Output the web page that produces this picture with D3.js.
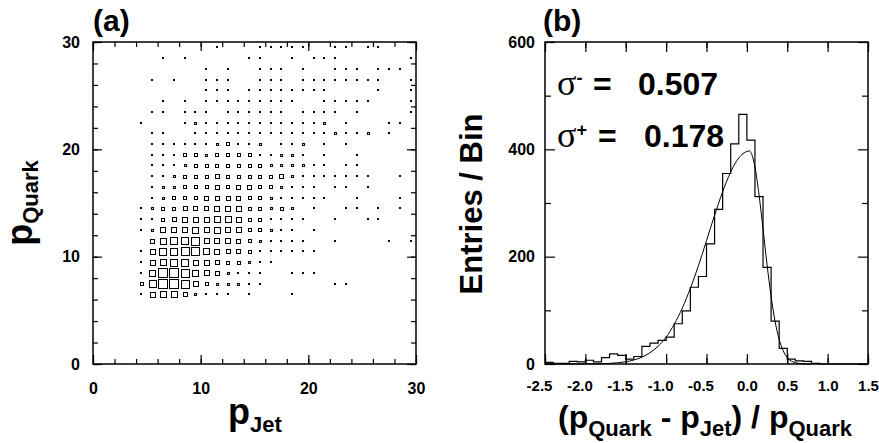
<html>
<head>
<meta charset="utf-8">
<script src="https://d3js.org/d3.v7.min.js"></script>
<style>
  body { margin: 0; background: #fff; }
  text { font-family: "Liberation Sans", Arial, sans-serif; font-weight: bold; fill: #000; }
  .sigma { font-family: "Liberation Serif", "DejaVu Serif", serif; font-weight: normal; }
</style>
</head>
<body>
<svg id="chart" width="879" height="443"></svg>
<script>
// ---- panel (a): p_Quark vs p_Jet, box plot, 1 GeV bins ----
var jetTicks = [0, 10, 20, 30]
var jetMinor = [0, 2, 4, 6, 8, 10, 12, 14, 16, 18, 20, 22, 24, 26, 28, 30]
var quarkTicks = [0, 10, 20, 30]
var quarkMinor = [0, 2, 4, 6, 8, 10, 12, 14, 16, 18, 20, 22, 24, 26, 28, 30]
var firstQuarkBin = 6   // rows below are p_Quark bins 6..29, columns p_Jet bins 0..29
var boxCounts = [
  [0,0,0,0,6,30,42,42,25,9,6,2,2,0,2,0,0,0,2,0,0,0,0,0,0,0,0,0,0,0],
  [0,0,0,0,12,56,90,90,64,30,16,9,9,9,4,2,0,0,0,0,0,0,2,2,0,0,0,0,0,0],
  [0,0,0,0,6,42,90,90,64,42,30,20,9,6,4,2,0,0,2,2,2,0,0,0,0,0,0,0,0,0],
  [0,0,0,0,2,36,42,56,56,36,30,20,16,12,9,4,2,0,0,0,0,0,0,0,0,0,0,0,0,0],
  [0,0,0,0,2,36,49,56,72,72,42,30,20,20,12,6,2,2,2,2,2,0,0,0,0,0,0,0,0,0],
  [0,0,0,0,0,20,42,49,56,64,36,36,30,20,12,9,6,4,2,2,0,0,2,0,0,0,0,2,0,2],
  [0,0,0,0,2,9,30,36,36,42,36,42,36,30,16,12,9,4,4,0,2,0,0,0,0,0,0,0,0,0],
  [0,0,0,0,4,6,16,20,30,30,36,42,42,36,16,12,4,2,2,2,0,0,2,0,0,2,2,0,0,0],
  [0,0,0,0,4,9,12,12,20,25,25,36,36,36,16,16,9,12,9,0,2,0,0,2,2,0,2,0,2,0],
  [0,0,0,0,0,4,9,12,16,16,20,20,20,20,16,16,9,4,4,2,2,2,0,0,2,0,0,0,2,0],
  [0,0,0,0,0,2,9,9,12,12,16,20,16,20,20,16,16,9,6,2,2,0,2,2,0,2,0,0,0,0],
  [0,0,0,0,0,4,2,9,12,16,16,20,16,16,16,16,12,20,9,4,4,4,4,4,2,2,0,0,2,0],
  [0,0,0,0,0,2,2,6,9,12,12,16,12,16,12,12,9,9,9,9,6,6,0,2,2,0,0,0,0,0],
  [0,0,0,0,0,2,2,6,16,12,9,16,16,12,16,4,2,9,9,6,0,2,0,0,2,0,0,0,0,0],
  [0,0,0,0,0,4,4,4,4,2,6,9,16,6,6,9,0,4,6,9,0,2,0,6,0,0,0,0,0,0],
  [0,0,0,0,0,2,6,0,0,4,6,4,4,6,4,4,4,4,4,4,4,4,9,4,4,9,0,4,0,0],
  [0,0,0,0,2,0,0,0,6,9,4,4,4,4,4,4,4,4,4,4,4,9,0,2,0,0,0,2,2,0],
  [0,0,0,0,0,2,2,0,2,2,2,0,4,4,6,6,6,6,0,4,6,6,6,0,2,0,0,0,0,2],
  [0,0,0,0,0,0,2,0,2,0,2,2,2,4,4,4,4,4,2,0,0,4,4,6,4,4,0,0,0,2],
  [0,0,0,0,0,0,0,0,0,0,4,2,2,0,4,4,6,4,4,4,6,4,0,0,0,0,4,0,0,2],
  [0,0,0,0,0,2,0,2,0,0,2,2,2,0,0,2,2,2,0,2,2,4,2,2,2,2,2,0,0,2],
  [0,0,0,0,0,0,0,0,0,0,2,0,2,0,0,2,2,2,0,2,0,0,2,4,2,0,4,2,2,0],
  [0,0,0,0,0,0,2,0,2,0,0,0,0,0,2,2,0,0,2,0,2,6,4,0,0,0,0,0,0,2],
  [0,0,0,0,0,0,0,0,0,0,0,2,0,0,0,2,2,2,2,2,0,0,2,2,0,2,2,0,0,0]
]

// ---- panel (b): (p_Quark - p_Jet)/p_Quark histogram, bins of 0.1 from -2.5 ----
var resTicks = [-2.5, -2, -1.5, -1, -0.5, 0, 0.5, 1, 1.5]
var entryTicks = [0, 200, 400, 600]
var entryMinor = [100, 300, 500]
var resCounts = [3, 1, 1, 5, 4, 7, 4, 12, 19, 16,
                 9, 14, 33, 39, 44, 50, 75, 99, 143, 163,
                 224, 288, 355, 410, 465, 417, 312, 180, 80, 29,
                 9, 6, 5, 1, 0, 0, 0, 0, 0, 0]
// fitted curve
var fitX = [-2.5, -2.0, -1.8, -1.6, -1.5, -1.4, -1.3, -1.2, -1.1, -1.0, -0.9, -0.8, -0.7, -0.6, -0.5,
            -0.4, -0.3, -0.2, -0.1, 0.0, 0.03, 0.05, 0.1, 0.15, 0.2, 0.25, 0.3, 0.35, 0.4, 0.45, 0.5, 0.6, 0.7, 0.8]
var fitY = [0, 0.1, 0.6, 2.3, 4.2, 7.4, 12.7, 21, 33, 50, 74, 104, 141, 183, 230,
            277, 321, 358, 384, 396, 397, 394, 367, 316, 252, 185, 126, 79, 46, 24.5, 12, 2.4, 0.3, 0]
var sigmaLabels = [["-", "0.507"], ["+", "0.178"]]

var svg = d3.select("#chart")

function styleAxis(g, size) {
  g.select(".domain").remove()
  g.selectAll("line").attr("stroke", "#000").attr("stroke-width", 1.2)
  g.attr("font-family", null).attr("font-size", null)
  g.selectAll("text").style("font-size", size + "px")
}

var xIsRes = false
function tickText(d) {
  var s = xIsRes ? Math.abs(d).toFixed(1) : String(Math.abs(d))
  return (d < 0 ? "-" : "") + s
}

function drawFrame(x, y, xMaj, xMin, yMaj, yMin, majLen, minLen, xPad, yPad, xSize) {
  var x0 = x.range()[0], x1 = x.range()[1], y0 = y.range()[0], y1 = y.range()[1]
  svg.append("g").attr("transform", "translate(0," + y0 + ")")
    .call(d3.axisBottom(x).tickValues(xMin).tickSize(-minLen).tickFormat("")).call(styleAxis, 16)
  svg.append("g").attr("transform", "translate(0," + y0 + ")")
    .call(d3.axisBottom(x).tickValues(xMaj).tickSize(-majLen).tickPadding(xPad).tickFormat(tickText))
    .call(styleAxis, xSize)
    .selectAll("text").attr("dx", function(d) { return d < 0 ? -6 : 0 })
  svg.append("g").attr("transform", "translate(0," + y1 + ")")
    .call(d3.axisTop(x).tickValues(xMin).tickSize(-minLen).tickFormat("")).call(styleAxis, 16)
  svg.append("g").attr("transform", "translate(0," + y1 + ")")
    .call(d3.axisTop(x).tickValues(xMaj).tickSize(-majLen).tickFormat("")).call(styleAxis, 16)
  svg.append("g").attr("transform", "translate(" + x0 + ",0)")
    .call(d3.axisLeft(y).tickValues(yMin).tickSize(-minLen).tickFormat("")).call(styleAxis, 16)
  svg.append("g").attr("transform", "translate(" + x0 + ",0)")
    .call(d3.axisLeft(y).tickValues(yMaj).tickSize(-majLen).tickPadding(yPad).tickFormat(d3.format("d")))
    .call(styleAxis, 16)
  svg.append("g").attr("transform", "translate(" + x1 + ",0)")
    .call(d3.axisRight(y).tickValues(yMin).tickSize(-minLen).tickFormat("")).call(styleAxis, 16)
  svg.append("g").attr("transform", "translate(" + x1 + ",0)")
    .call(d3.axisRight(y).tickValues(yMaj).tickSize(-majLen).tickFormat("")).call(styleAxis, 16)
  svg.append("rect").attr("x", x0).attr("y", y1).attr("width", x1 - x0).attr("height", y0 - y1)
    .attr("fill", "none").attr("stroke", "#000").attr("stroke-width", 1.5)
}

// panel (a)
var ax = d3.scaleLinear().domain([0, 30]).range([93, 416])
var ay = d3.scaleLinear().domain([0, 30]).range([364, 42])
var side = d3.scaleSqrt().domain([0, 100]).range([0, 10.8])

var cells = []
boxCounts.forEach(function(row, r) {
  row.forEach(function(n, i) {
    if (n > 0) cells.push({jet: i, quark: firstQuarkBin + r, n: n})
  })
})

// small contents become solid dots, larger ones open boxes snapped to the pixel grid
function inner(d) { return Math.max(1, Math.round(side(d.n) - 1)) }
var boxes = svg.append("g")
boxes.selectAll("rect.dot").data(cells.filter(function(d) { return side(d.n) < 2.8 })).join("rect")
  .attr("class", "dot")
  .attr("x", function(d) { return Math.round(ax(d.jet + 0.5) - 1) })
  .attr("y", function(d) { return Math.round(ay(d.quark + 0.5) - 1) })
  .attr("width", 2).attr("height", 2).attr("fill", "#000")
boxes.selectAll("rect.box").data(cells.filter(function(d) { return side(d.n) >= 2.8 })).join("rect")
  .attr("class", "box")
  .attr("x", function(d) { return Math.round(ax(d.jet + 0.5) - inner(d) / 2) + 0.5 })
  .attr("y", function(d) { return Math.round(ay(d.quark + 0.5) - inner(d) / 2) + 0.5 })
  .attr("width", inner)
  .attr("height", inner)
  .attr("fill", "none").attr("stroke", "#000").attr("stroke-width", 1)

drawFrame(ax, ay, jetTicks, jetMinor, quarkTicks, quarkMinor, 9, 5, 19, 13, 16)

// panel (b)
var bx = d3.scaleLinear().domain([-2.5, 1.5]).range([545, 868])
var by = d3.scaleLinear().domain([0, 600]).range([364, 42])

var steps = resCounts.map(function(c, k) { return [-2.5 + k * 0.1, c] })
steps.push([1.5, resCounts[resCounts.length - 1]])

svg.append("path").datum(steps)
  .attr("d", d3.line().x(function(d) { return bx(d[0]) }).y(function(d) { return by(d[1]) }).curve(d3.curveStepAfter))
  .attr("fill", "none").attr("stroke", "#000").attr("stroke-width", 1.2)

svg.append("path").datum(d3.zip(fitX, fitY))
  .attr("d", d3.line().x(function(d) { return bx(d[0]) }).y(function(d) { return by(d[1]) }).curve(d3.curveMonotoneX))
  .attr("fill", "none").attr("stroke", "#000").attr("stroke-width", 1)

xIsRes = true
drawFrame(bx, by, resTicks, resTicks, entryTicks, entryMinor, 10, 6, 16, 10, 15)

// sigma annotations
var sigRows = [{base: 95, eq: 593, val: 638}, {base: 147, eq: 598, val: 644}]
sigmaLabels.forEach(function(s, i) {
  var t = svg.append("text").attr("x", 557).attr("y", sigRows[i].base)
  t.append("tspan").attr("class", "sigma").style("font-size", "36px").text("\u03c3")
  t.append("tspan").attr("dy", -11).style("font-size", "18px").text(s[0])
  svg.append("text").attr("x", sigRows[i].eq).attr("y", sigRows[i].base).style("font-size", "32px").text("=")
  svg.append("text").attr("x", sigRows[i].val).attr("y", sigRows[i].base).style("font-size", "32px").text(s[1])
})

// panel labels
svg.append("text").attr("x", 93).attr("y", 31).style("font-size", "30px").text("(a)")
svg.append("text").attr("x", 543).attr("y", 31).style("font-size", "30px").text("(b)")

// axis titles
function subText(sel, parts, main, sub, shift) {
  var down = false
  parts.forEach(function(p) {
    var ts = sel.append("tspan").text(p[0])
    if (p[1]) {
      ts.style("font-size", sub + "px").attr("dy", down ? 0 : shift); down = true
    } else {
      ts.style("font-size", main + "px").attr("dy", down ? -shift : 0); down = false
    }
  })
}

svg.append("text").attr("transform", "translate(32,203) rotate(-90)").attr("text-anchor", "middle")
  .call(subText, [["p", false], ["Quark", true]], 36, 22, 6)
svg.append("text").attr("transform", "translate(482,204) rotate(-90)").attr("text-anchor", "middle")
  .style("font-size", "31px").text("Entries / Bin")
svg.append("text").attr("transform", "translate(255,424)").attr("text-anchor", "middle")
  .call(subText, [["p", false], ["Jet", true]], 36, 22, 8)
svg.append("text").attr("transform", "translate(705,428)").attr("text-anchor", "middle")
  .call(subText, [["(p", false], ["Quark", true], [" - p", false], ["Jet", true], [") / p", false], ["Quark", true]], 32, 22, 8)
</script>
</body>
</html>
